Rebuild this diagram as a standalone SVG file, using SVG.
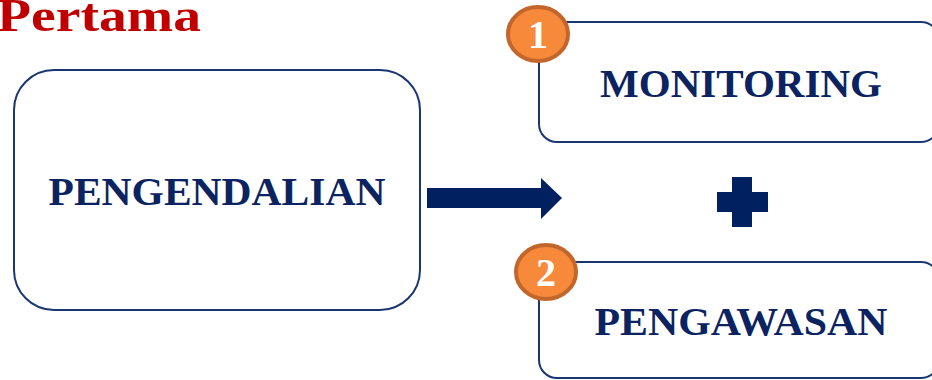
<svg xmlns="http://www.w3.org/2000/svg" width="932" height="380" viewBox="0 0 932 380">
<style>
.box{fill:#fff;stroke:#1a3673;stroke-width:2}
.lbl{font-family:"Liberation Serif",serif;font-weight:bold;font-size:40px;fill:#0b2461;text-anchor:middle}
.badge{fill:#f7893a;stroke:#c2662b;stroke-width:4}
.num{font-family:"Liberation Serif",serif;font-weight:bold;font-size:40px;fill:#fff;text-anchor:middle}
.shape{fill:#00205f}
</style>
<text x="-3" y="31" font-family="Liberation Serif, serif" font-weight="bold" font-size="46" fill="#c00000" textLength="204" lengthAdjust="spacingAndGlyphs">Pertama</text>
<g id="pengendalian">
<rect class="box" x="14" y="70" width="406" height="240" rx="40"/>
<text class="lbl" x="217" y="205" textLength="337" lengthAdjust="spacingAndGlyphs">PENGENDALIAN</text>
</g>
<g id="monitoring">
<rect class="box" x="539" y="22" width="400" height="120" rx="18"/>
<text class="lbl" x="741" y="97" textLength="282" lengthAdjust="spacingAndGlyphs">MONITORING</text>
<ellipse class="badge" cx="538" cy="34" rx="30" ry="27"/>
<text class="num" x="538" y="48">1</text>
</g>
<g id="pengawasan">
<rect class="box" x="539" y="262" width="400" height="116" rx="18"/>
<text class="lbl" x="741" y="335" textLength="293" lengthAdjust="spacingAndGlyphs">PENGAWASAN</text>
<ellipse class="badge" cx="546" cy="272" rx="30" ry="27"/>
<text class="num" x="546" y="286">2</text>
</g>
<g id="connectors">
<polygon class="shape" points="427,188 541,188 541,178 562,198 541,219 541,208 427,208"/>
</g>
<g id="plus">
<polygon class="shape" points="732,177 752,177 752,192 768,192 768,212 752,212 752,227 732,227 732,212 717,212 717,192 732,192"/>
</g>
</svg>
